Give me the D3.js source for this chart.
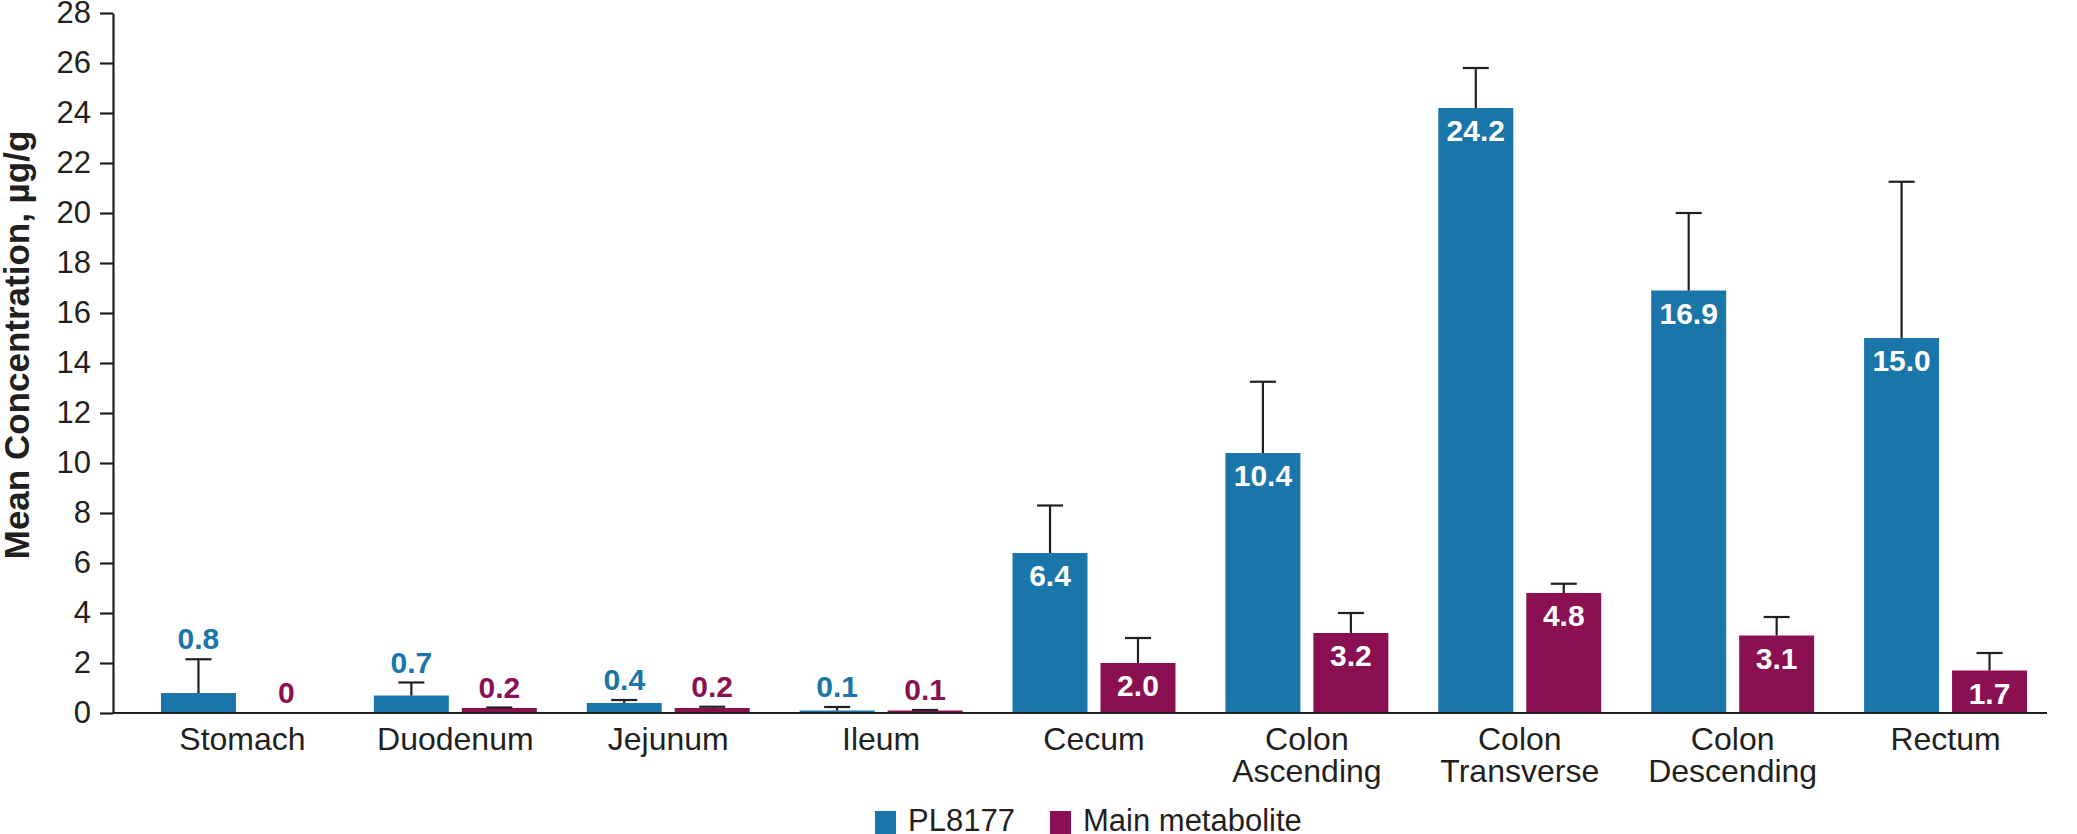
<!DOCTYPE html>
<html>
<head>
<meta charset="utf-8">
<script src="https://cdn.jsdelivr.net/npm/d3@7"></script>
<style>
  html, body { margin: 0; padding: 0; background: #fff; }
  svg { display: block; }
  text { font-family: "Liberation Sans", Arial, Helvetica, sans-serif; }
</style>
</head>
<body>
<svg id="chart" width="2077" height="834"></svg>
<script>
// ---- data ----
const categories = ["Stomach", "Duodenum", "Jejunum", "Ileum", "Cecum",
  "Colon\nAscending", "Colon\nTransverse", "Colon\nDescending", "Rectum"];
const seriesNames = ["PL8177", "Main metabolite"];
const pl8177Values = [0.8, 0.7, 0.4, 0.1, 6.4, 10.4, 24.2, 16.9, 15.0];
const metaboliteValues = [0, 0.2, 0.2, 0.1, 2.0, 3.2, 4.8, 3.1, 1.7];
const pl8177ErrTop = [2.15, 1.22, 0.52, 0.24, 8.3, 13.25, 25.8, 20.0, 21.25];
const metaboliteErrTop = [null, 0.22, 0.25, 0.12, 3.0, 4.0, 5.17, 3.84, 2.4];
const yTicks = [0, 2, 4, 6, 8, 10, 12, 14, 16, 18, 20, 22, 24, 26, 28];
const yTitle = "Mean Concentration, µg/g";

const colors = { "PL8177": "#1a75a9", "Main metabolite": "#8a1052" };
const ink = "#231f20";

const svg = d3.select("#chart");
const axisX = 113, baseY = 713, topY = 13, rightX = 2047;

const y = d3.scaleLinear().domain([0, 28]).range([baseY, topY]);
const x = d3.scaleBand().domain(categories).range([136, 2052]).paddingInner(0).paddingOuter(0);
const xs = d3.scaleBand().domain(seriesNames).range([0, x.bandwidth()])
  .paddingInner(13 / 88).paddingOuter(0.284);

const rows = [];
categories.forEach((c, i) => {
  rows.push({ cat: c, s: "PL8177", v: pl8177Values[i], e: pl8177ErrTop[i] });
  rows.push({ cat: c, s: "Main metabolite", v: metaboliteValues[i], e: metaboliteErrTop[i] });
});

// bars
svg.append("g").selectAll("rect").data(rows).join("rect")
  .attr("x", d => x(d.cat) + xs(d.s))
  .attr("y", d => y(d.v))
  .attr("width", xs.bandwidth())
  .attr("height", d => y(0) - y(d.v))
  .attr("fill", d => colors[d.s]);

// error bars
const eg = svg.append("g").attr("stroke", ink).attr("stroke-width", 2.2);
const withErr = rows.filter(d => d.e != null);
eg.selectAll("line.v").data(withErr).join("line")
  .attr("class", "v")
  .attr("x1", d => x(d.cat) + xs(d.s) + xs.bandwidth() / 2)
  .attr("x2", d => x(d.cat) + xs(d.s) + xs.bandwidth() / 2)
  .attr("y1", d => y(d.v))
  .attr("y2", d => y(d.e));
eg.selectAll("line.c").data(withErr).join("line")
  .attr("class", "c")
  .attr("x1", d => x(d.cat) + xs(d.s) + xs.bandwidth() / 2 - 13)
  .attr("x2", d => x(d.cat) + xs(d.s) + xs.bandwidth() / 2 + 13)
  .attr("y1", d => y(d.e))
  .attr("y2", d => y(d.e));

// value labels
const fmt = v => (v === 0 ? "0" : v.toFixed(1));
svg.append("g").selectAll("text").data(rows).join("text")
  .attr("x", d => x(d.cat) + xs(d.s) + xs.bandwidth() / 2)
  .attr("y", d => d.v >= 1.5 ? y(d.v) + 33 : y(d.e != null ? d.e : d.v) - 10)
  .attr("text-anchor", "middle")
  .attr("font-size", 30)
  .attr("font-weight", "bold")
  .attr("fill", d => d.v >= 1.5 ? "#ffffff" : colors[d.s])
  .text(d => fmt(d.v));

// y axis
const yAxis = d3.axisLeft(y).tickValues(yTicks).tickSize(13).tickSizeOuter(0).tickPadding(9);
const gy = svg.append("g").attr("transform", `translate(${axisX},0)`).call(yAxis);
gy.select(".domain").attr("stroke", ink).attr("stroke-width", 2.2);
gy.selectAll(".tick line").attr("stroke", ink).attr("stroke-width", 2.2);
gy.selectAll(".tick text").attr("font-size", 31).attr("fill", ink)
  .attr("font-family", "'Liberation Sans', Arial, sans-serif");

// x axis
const xAxis = d3.axisBottom(x).tickSize(0).tickSizeOuter(0).tickFormat("");
const gx = svg.append("g").attr("transform", `translate(0,${baseY})`).call(xAxis);
gx.select(".domain").remove();
svg.append("line").attr("x1", axisX).attr("x2", rightX)
  .attr("y1", baseY).attr("y2", baseY)
  .attr("stroke", ink).attr("stroke-width", 2.2);
gx.selectAll(".tick").each(function (d) {
  const t = d3.select(this).append("text")
    .attr("text-anchor", "middle").attr("fill", ink).attr("font-size", 32)
    .attr("font-family", "'Liberation Sans', Arial, sans-serif");
  d.split("\n").forEach((ln, k) => {
    t.append("tspan").attr("x", 0).attr("y", 37 + k * 32).text(ln);
  });
});

// y title
svg.append("text")
  .attr("transform", `translate(29,${(y(0) + y(28)) / 2 - 18}) rotate(-90)`)
  .attr("text-anchor", "middle")
  .attr("font-size", 35).attr("font-weight", "bold").attr("fill", ink)
  .text(yTitle);

// legend
const legendPos = [{ s: "PL8177", x: 875 }, { s: "Main metabolite", x: 1050 }];
const lg = svg.append("g");
legendPos.forEach(p => {
  lg.append("rect").attr("x", p.x).attr("y", 811).attr("width", 21).attr("height", 23)
    .attr("fill", colors[p.s]);
  lg.append("text").attr("x", p.x + 33).attr("y", 831).attr("font-size", 31)
    .attr("fill", ink).text(p.s);
});
</script>
</body>
</html>
